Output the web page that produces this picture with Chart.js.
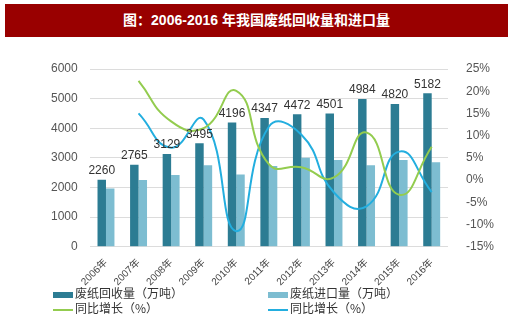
<!DOCTYPE html>
<html>
<head>
<meta charset="utf-8">
<script src="https://cdn.jsdelivr.net/npm/chart.js@4/dist/chart.umd.min.js"></script>
<style>
  body { margin: 0; background: #fff; font-family: "Liberation Sans", Arial, "Noto Sans CJK SC", sans-serif; }
  #wrap { position: relative; width: 520px; height: 335px; overflow: hidden; }
  #title { position: absolute; left: 5px; top: 4px; width: 503px; height: 33px; background: #990000;
           color: #fff; font-weight: bold; font-size: 14px; line-height: 33px; text-align: center;
           font-family: "Liberation Sans", Arial, "Noto Sans CJK SC", sans-serif; }
  #box { position: absolute; left: 0; top: 40px; width: 520px; height: 250px; }
  .lg { position: absolute; font-size: 12px; color: #333; font-family: "Noto Sans CJK SC", sans-serif; line-height: 14px; }
  .lg i { display: inline-block; width: 20px; vertical-align: middle; margin-right: 2px; }
</style>
</head>
<body>
<div id="wrap">
  <div id="title">图：2006-2016 年我国废纸回收量和进口量</div>
  <div id="box"><canvas id="chart"></canvas></div>
  <div class="lg" style="left:53px; top:286px;"><i style="height:6px;background:#2c7c93"></i>废纸回收量（万吨）</div>
  <div class="lg" style="left:268px; top:286px;"><i style="height:6px;background:#7dbdd1"></i>废纸进口量（万吨）</div>
  <div class="lg" style="left:53px; top:301px;"><i style="height:2px;background:#93cc4f"></i>同比增长（%）</div>
  <div class="lg" style="left:268px; top:301px;"><i style="height:2px;background:#23aedf"></i>同比增长（%）</div>
</div>
<script>
// 数据
const years = ["2006年", "2007年", "2008年", "2009年", "2010年", "2011年", "2012年", "2013年", "2014年", "2015年", "2016年"];
const recycled = [2260, 2765, 3129, 3495, 4196, 4347, 4472, 4501, 4984, 4820, 5182];
const imported = [1962, 2256, 2421, 2750, 2435, 2728, 3007, 2924, 2752, 2928, 2850];
const recycledGrowth = [null, 22.3, 13.2, 11.7, 20.1, 3.6, 2.9, 0.6, 10.7, -3.3, 7.5];
const importGrowth = [null, 15.0, 7.3, 13.6, -11.5, 12.0, 10.2, -2.8, -5.9, 6.4, -2.7];

// 柱子上方的数值
const barLabels = {
    id: "barLabels",
    afterDatasetsDraw(chart) {
        const ctx = chart.ctx;
        const meta = chart.getDatasetMeta(0);
        ctx.save();
        ctx.font = "12px 'Liberation Sans', Arial, sans-serif";
        ctx.fillStyle = "#333";
        ctx.textAlign = "center";
        ctx.textBaseline = "bottom";
        meta.data.forEach(function (bar, i) {
            ctx.fillText(recycled[i], bar.x, bar.y - 3);
        });
        ctx.restore();
    }
};

const ctx = document.getElementById("chart").getContext("2d");
new Chart(ctx, {
    type: "bar",
    data: {
        labels: years,
        datasets: [
            { label: "废纸回收量（万吨）", data: recycled, backgroundColor: "#2c7c93", order: 2,
              categoryPercentage: 0.52, barPercentage: 1, yAxisID: "y" },
            { label: "废纸进口量（万吨）", data: imported, backgroundColor: "#7dbdd1", order: 2,
              categoryPercentage: 0.52, barPercentage: 1, yAxisID: "y" },
            { type: "line", label: "同比增长（%）", data: recycledGrowth, borderColor: "#93cc4f", borderWidth: 2,
              pointRadius: 0, tension: 0.5, fill: false, order: 1, yAxisID: "y1" },
            { type: "line", label: "同比增长（%）", data: importGrowth, borderColor: "#23aedf", borderWidth: 2,
              pointRadius: 0, tension: 0.5, fill: false, order: 1, yAxisID: "y1" }
        ]
    },
    options: {
        responsive: true,
        maintainAspectRatio: false,
        animation: false,
        layout: { padding: { left: 39, right: 16, top: 29, bottom: 0 } },
        plugins: { legend: { display: false }, tooltip: { enabled: false } },
        scales: {
            x: {
                grid: { display: false },
                border: { display: false },
                ticks: { color: "#444", maxRotation: 45, minRotation: 45, padding: 2,
                         font: { size: 10, family: "'Liberation Sans', 'Noto Sans CJK SC', sans-serif" } }
            },
            y: {
                position: "left",
                min: 0, max: 6000,
                ticks: { stepSize: 1000, color: "#555", padding: 12, callback: v => String(v),
                         font: { size: 12, family: "'Liberation Sans', Arial, sans-serif" } },
                border: { display: false },
                grid: { color: "#dcdcdc", borderDash: [3, 3], drawTicks: false }
            },
            y1: {
                position: "right",
                min: -15, max: 25,
                ticks: { stepSize: 5, color: "#555", padding: 10, callback: v => v + "%",
                         font: { size: 12, family: "'Liberation Sans', Arial, sans-serif" } },
                border: { display: false },
                grid: { display: false }
            }
        }
    },
    plugins: [barLabels]
});
</script>
</body>
</html>
